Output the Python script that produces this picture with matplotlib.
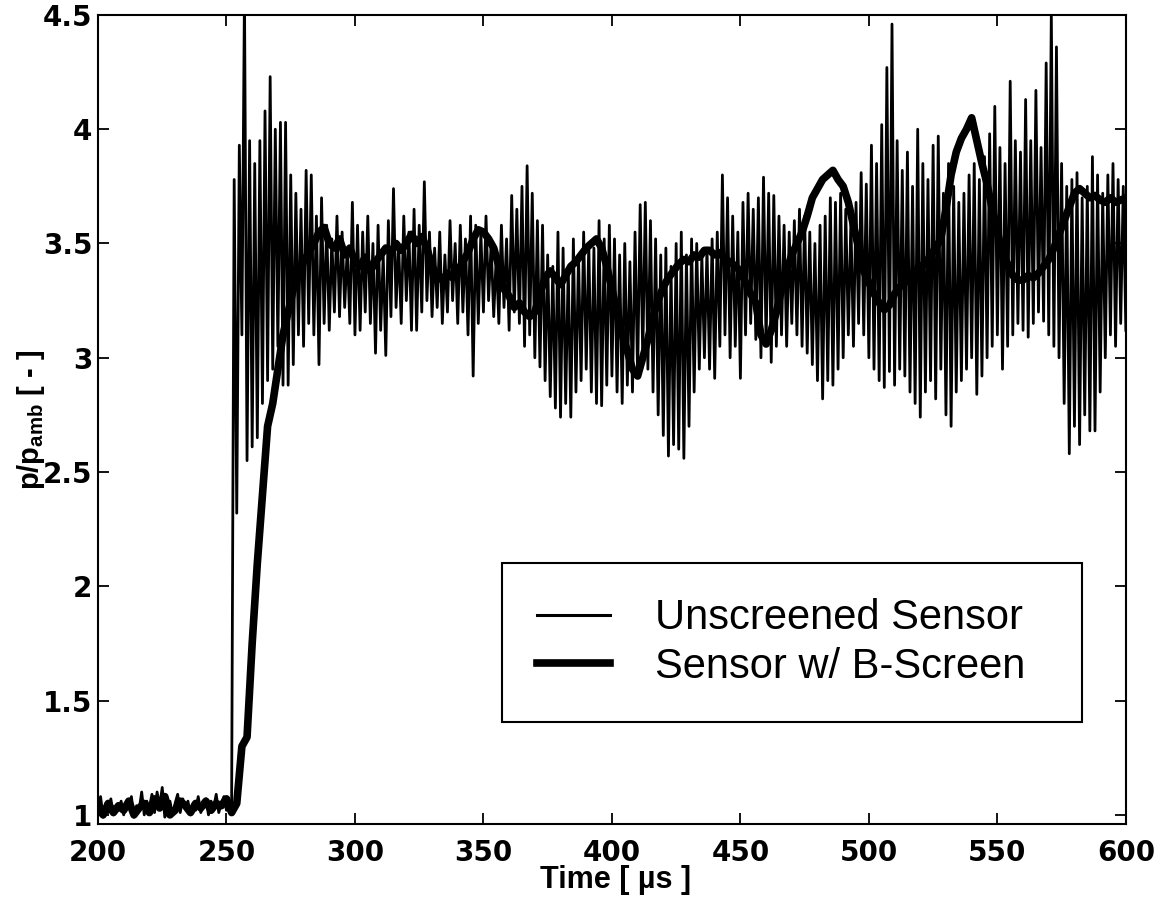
import numpy as np
import matplotlib.pyplot as plt
from matplotlib.lines import Line2D

# sensor sin pantalla: linea base antes del choque (t = 200..252, 1 us)
thin_pre = [1.02, 1.08, 0.99, 1.05, 1.01, 1.07, 1.00, 1.04, 1.02, 1.06,
            1.00, 1.05, 1.03, 1.08, 0.99, 1.04, 1.02, 1.10, 1.00, 1.06,
            1.03, 1.09, 1.01, 1.10, 1.04, 1.12, 0.99, 1.02, 1.06, 1.00,
            1.05, 1.09, 1.01, 1.07, 1.03, 1.06, 1.00, 1.05, 1.02, 1.08,
            1.01, 1.04, 1.07, 1.00, 1.06, 1.03, 1.09, 1.01, 1.05, 1.08,
            1.02, 1.06, 1.04]

# maximos de la oscilacion (t = 253, 255, ...)
thin_hi = [3.78, 3.93, 4.60, 3.95, 3.85, 3.95, 4.08, 4.23, 4.00, 4.03,
           4.03, 3.80, 3.72, 3.65, 3.82, 3.80, 3.62, 3.70, 3.58, 3.52,
           3.62, 3.55, 3.48, 3.68, 3.58, 3.55, 3.62, 3.50, 3.58, 3.45,
           3.60, 3.74, 3.50, 3.62, 3.55, 3.65, 3.58, 3.77, 3.55, 3.48,
           3.55, 3.45, 3.60, 3.50, 3.58, 3.52, 3.62, 3.58, 3.55, 3.62,
           3.50, 3.45, 3.58, 3.52, 3.71, 3.65, 3.75, 3.84, 3.72, 3.60,
           3.58, 3.45, 3.40, 3.55, 3.48, 3.40, 3.52, 3.45, 3.55, 3.50,
           3.48, 3.60, 3.52, 3.58, 3.52, 3.45, 3.50, 3.42, 3.55, 3.67,
           3.68, 3.60, 3.52, 3.45, 3.48, 3.40, 3.50, 3.55, 3.45, 3.52,
           3.50, 3.45, 3.48, 3.52, 3.55, 3.80, 3.70, 3.62, 3.55, 3.68,
           3.72, 3.65, 3.70, 3.79, 3.72, 3.71, 3.62, 3.58, 3.55, 3.60,
           3.65, 3.62, 3.55, 3.50, 3.58, 3.62, 3.70, 3.68, 3.72, 3.65,
           3.60, 3.68, 3.81, 3.76, 3.93, 3.85, 4.02, 4.27, 4.46, 3.95,
           3.82, 3.90, 3.75, 4.00, 3.85, 3.78, 3.93, 3.97, 3.72, 3.85,
           3.75, 3.68, 3.72, 3.80, 3.85, 3.78, 3.88, 3.98, 4.10, 3.92,
           3.85, 4.21, 3.95, 3.90, 4.13, 3.95, 4.17, 3.92, 4.29, 4.51,
           4.36, 3.85, 3.75, 3.78, 3.81, 3.70, 3.75, 3.88, 3.80, 3.72,
           3.80, 3.85, 3.78, 3.75]

# minimos de la oscilacion (t = 254, 256, ...)
thin_lo = [2.32, 3.10, 2.55, 2.61, 2.65, 2.80, 2.90, 2.95, 3.05, 2.88,
           2.88, 2.97, 3.10, 3.05, 3.15, 3.10, 2.97, 3.15, 3.12, 3.20,
           3.18, 3.22, 3.15, 3.10, 3.12, 3.20, 3.15, 3.02, 3.12, 3.01,
           3.18, 3.22, 3.15, 3.25, 3.12, 3.12, 3.20, 3.25, 3.18, 3.22,
           3.15, 3.20, 3.25, 3.15, 3.20, 3.10, 2.92, 3.15, 3.20, 3.25,
           3.18, 3.15, 3.22, 3.12, 3.20, 3.15, 3.05, 3.10, 3.00, 2.96,
           2.90, 2.83, 2.78, 2.74, 2.80, 2.74, 2.85, 2.90, 2.95, 2.85,
           2.80, 2.79, 2.88, 2.92, 2.85, 2.80, 2.88, 2.85, 2.92, 3.00,
           2.95, 2.85, 2.75, 2.66, 2.57, 2.62, 2.60, 2.56, 2.70, 2.85,
           2.95, 3.00, 2.95, 2.91, 3.05, 3.10, 3.00, 3.05, 2.91, 3.10,
           3.15, 3.08, 3.00, 3.06, 2.98, 3.05, 3.10, 3.05, 3.15, 3.10,
           3.05, 3.02, 2.97, 2.90, 2.82, 2.90, 2.88, 2.95, 3.00, 3.10,
           3.05, 3.15, 3.10, 3.00, 2.95, 2.90, 2.87, 2.94, 2.88, 2.95,
           2.92, 2.85, 2.80, 2.74, 2.85, 2.90, 2.82, 2.95, 2.75, 2.70,
           2.85, 2.90, 2.95, 3.00, 2.84, 2.92, 3.00, 3.05, 3.10, 2.95,
           3.05, 3.10, 3.15, 3.12, 3.09, 3.15, 3.20, 3.16, 3.10, 3.05,
           3.00, 2.80, 2.58, 2.70, 2.62, 2.75, 2.68, 2.68, 2.85, 3.00,
           3.10, 3.05, 3.15, 3.12]

# sensor con pantalla B (t = 200..600, cada 2 us)
thick = [1.03, 1.00, 1.05, 1.01, 1.04, 1.02, 1.06, 1.00, 1.03, 1.05,
         1.01, 1.07, 1.03, 1.08, 1.00, 1.02, 1.06, 1.04, 1.01, 1.05,
         1.03, 1.06, 1.02, 1.05, 1.04, 1.07, 1.01,
         1.05, 1.30, 1.34, 1.75, 2.10, 2.40, 2.70, 2.80, 2.95, 3.10,
         3.20, 3.30, 3.38, 3.42, 3.46, 3.50, 3.55, 3.57, 3.50, 3.48,
         3.52, 3.45, 3.48, 3.42, 3.40, 3.44, 3.38, 3.42, 3.45, 3.48,
         3.46, 3.50, 3.47, 3.50, 3.54, 3.50, 3.53, 3.48, 3.40, 3.36,
         3.34, 3.37, 3.35, 3.38, 3.42, 3.46, 3.52, 3.56, 3.55, 3.52,
         3.48, 3.40, 3.30, 3.27, 3.22, 3.24, 3.20, 3.18, 3.20, 3.28,
         3.35, 3.38, 3.35, 3.32, 3.36, 3.40, 3.42, 3.45, 3.48, 3.50,
         3.52, 3.48, 3.40, 3.30, 3.20, 3.10, 3.03, 2.95, 2.92, 3.00,
         3.08, 3.18, 3.25, 3.31, 3.35, 3.38, 3.41, 3.43, 3.42, 3.45,
         3.44, 3.47, 3.47, 3.45, 3.46, 3.43, 3.42, 3.40, 3.38, 3.33,
         3.28, 3.24, 3.10, 3.06, 3.12, 3.20, 3.30, 3.38, 3.45, 3.50,
         3.55, 3.62, 3.70, 3.74, 3.78, 3.80, 3.82, 3.78, 3.75, 3.68,
         3.58, 3.48, 3.38, 3.33, 3.28, 3.24, 3.21, 3.23, 3.28, 3.31,
         3.33, 3.35, 3.38, 3.40, 3.41, 3.45, 3.48, 3.52, 3.65, 3.80,
         3.90, 3.96, 4.00, 4.05, 3.95, 3.85, 3.76, 3.65, 3.55, 3.46,
         3.41, 3.36, 3.34, 3.34, 3.36, 3.35, 3.37, 3.40, 3.43, 3.48,
         3.54, 3.60, 3.66, 3.72, 3.74, 3.72, 3.70, 3.71, 3.69, 3.68,
         3.70, 3.68, 3.69, 3.70]

xticks = [200, 250, 300, 350, 400, 450, 500, 550, 600]
yticks = [1, 1.5, 2, 2.5, 3, 3.5, 4, 4.5]
ytick_labels = ["1", "1.5", "2", "2.5", "3", "3.5", "4", "4.5"]

# armar la serie fina intercalando maximos y minimos
t_pre = 200 + np.arange(len(thin_pre))
t_hi = 253 + 2 * np.arange(len(thin_hi))
t_lo = 254 + 2 * np.arange(len(thin_lo))
t_osc = np.concatenate([t_hi, t_lo])
v_osc = np.concatenate([thin_hi, thin_lo])
orden = np.argsort(t_osc)
t_thin = np.concatenate([t_pre, t_osc[orden]])
v_thin = np.concatenate([thin_pre, v_osc[orden]])

t_thick = 200 + 2 * np.arange(len(thick))

plt.rcParams["mathtext.default"] = "regular"

fig = plt.figure(figsize=(11.68, 9.05), dpi=100)
ax = fig.add_axes([0.0839, 0.0895, 0.880, 0.894])

ax.plot(t_thin, v_thin, color="black", lw=2.0)
ax.plot(t_thick, thick, color="black", lw=5.5, solid_joinstyle="round")

ax.set_xlim(200, 600)
ax.set_ylim(0.96, 4.5)
ax.set_xticks(xticks)
ax.set_yticks(yticks)
ax.set_xticklabels([str(x) for x in xticks], fontsize=20, fontweight="bold", family="DejaVu Sans")
ax.set_yticklabels(ytick_labels, fontsize=20, fontweight="bold", family="DejaVu Sans")
ax.tick_params(direction="in", length=8, width=1.3, top=True, right=True)
ax.tick_params(axis="x", pad=11)
ax.tick_params(axis="y", pad=4)
for s in ax.spines.values():
    s.set_linewidth(1.5)

ax.set_xlabel("Time [ µs ]", fontsize=22, family="Liberation Sans", fontweight="bold")
ax.xaxis.set_label_coords(0.504, -0.051)
ax.set_ylabel(r"p/p$_{amb}$ [ - ]", fontsize=21, family="Liberation Sans", fontweight="bold")
ax.yaxis.set_label_coords(-0.05, 0.5)

handles = [Line2D([], [], color="black", lw=2.2),
           Line2D([], [], color="black", lw=5.5)]
leg = ax.legend(handles, ["Unscreened Sensor", "Sensor w/ B-Screen"],
                loc="upper left", bbox_to_anchor=(0.393, 0.3226, 0.564, 0.0),
                mode="expand",
                prop={"family": "Liberation Sans", "size": 30},
                frameon=True, fancybox=False, edgecolor="black", framealpha=1,
                handlelength=1.75, handletextpad=1.08, labelspacing=0.2,
                borderpad=0.85, borderaxespad=0)
leg.get_frame().set_linewidth(1.5)

fig.savefig("out.png", dpi=100)
